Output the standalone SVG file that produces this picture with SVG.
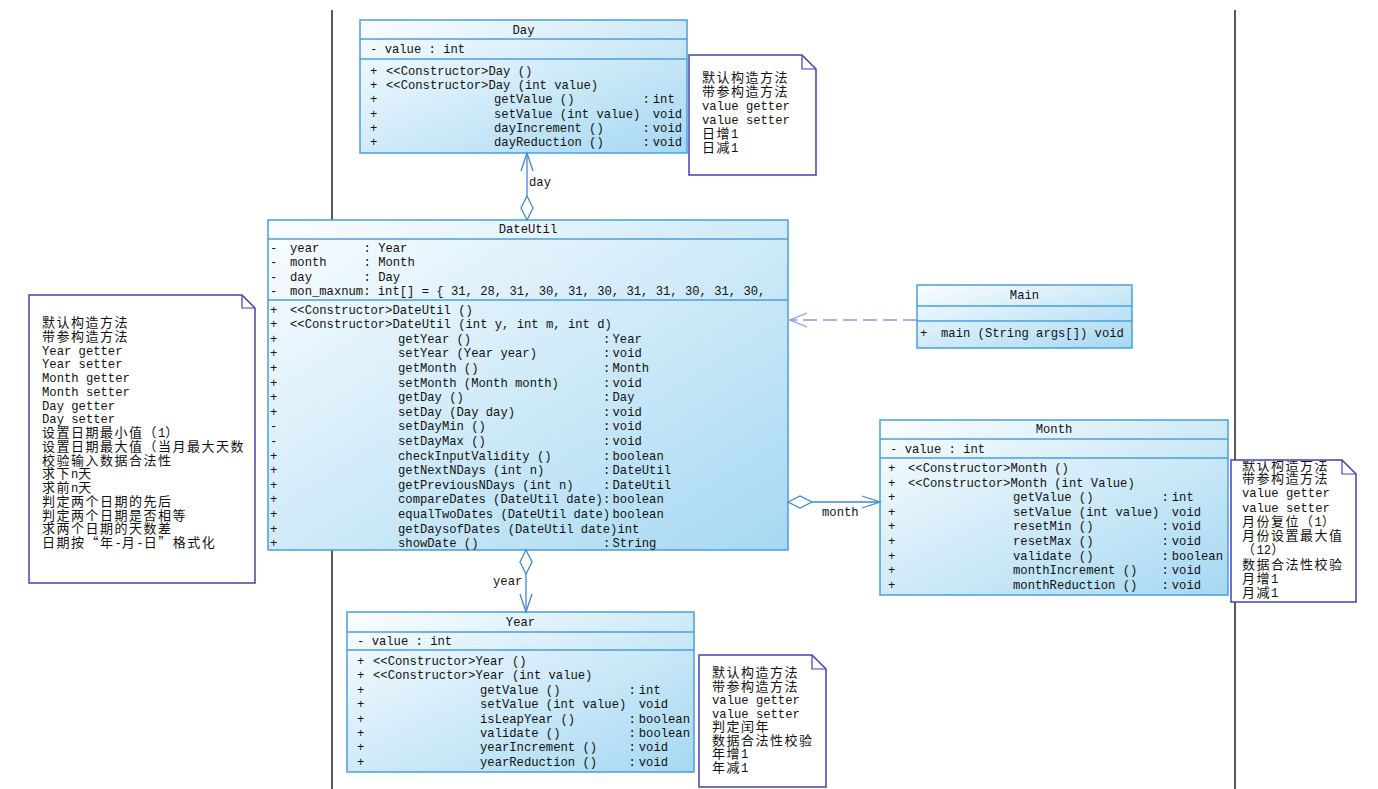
<svg xmlns="http://www.w3.org/2000/svg" width="1378" height="789" viewBox="0 0 1378 789">
<defs>
<linearGradient id="g" x1="0" y1="0" x2="1" y2="1">
<stop offset="0" stop-color="#fafdff"/>
<stop offset="1" stop-color="#a6d8f2"/>
</linearGradient>
<clipPath id="clipL"><rect x="30" y="296" width="213" height="286"/></clipPath>
<clipPath id="clipM"><rect x="1232" y="461" width="122" height="140"/></clipPath>
<clipPath id="clipY"><rect x="700" y="656" width="123" height="130"/></clipPath>
<style>
.box{fill:url(#g);stroke:#4a9ee0;stroke-width:1.5}
.dv{stroke:#4a9ee0;stroke-width:1.5}
.t{font-family:"Liberation Mono","Noto Sans CJK SC",monospace;font-size:12.2px;fill:#111}
.m{text-anchor:middle}
.c{font-family:"Noto Sans CJK SC",sans-serif;font-size:13px;letter-spacing:1.5px}
.note{fill:#fff;stroke:#4141b5;stroke-width:1.5}
.fold{fill:none;stroke:#4141b5;stroke-width:1.2}
.con{stroke:#3d8ad8;stroke-width:1.3;fill:none}
.dia{fill:#fff;stroke:#3d8ad8;stroke-width:1.3}
.dash{stroke:#9090e0;stroke-width:1.3;stroke-dasharray:14 6;fill:none}
.frame{stroke:#222;stroke-width:1.5}
</style>
</defs>
<rect width="1378" height="789" fill="#fff"/>
<g id="frame-lines">
<line class="frame" x1="332" y1="10" x2="332" y2="789"/>
<line class="frame" x1="1235" y1="10" x2="1235" y2="789"/>
</g>

<g id="Day">
<rect class="box" x="360" y="20" width="327" height="133"/>
<line class="dv" x1="360" y1="39" x2="687" y2="39"/>
<line class="dv" x1="360" y1="59" x2="687" y2="59"/>
<text class="t m" x="523.5" y="34">Day</text>
<text class="t" x="370" y="53">- value : int</text>
<text class="t" x="370" y="75">+</text><text class="t" x="386" y="75">&lt;&lt;Constructor&gt;Day ()</text>
<text class="t" x="370" y="89.2">+</text><text class="t" x="386" y="89.2">&lt;&lt;Constructor&gt;Day (int value)</text>
<text class="t" x="370" y="103.4">+</text><text class="t" x="494" y="103.4">getValue ()</text><text class="t" x="642.6" y="103.4">:<tspan x="652.8">int</tspan></text>
<text class="t" x="370" y="117.6">+</text><text class="t" x="494" y="117.6">setValue (int value)</text><text class="t" x="652.8" y="117.6">void</text>
<text class="t" x="370" y="131.8">+</text><text class="t" x="494" y="131.8">dayIncrement ()</text><text class="t" x="642.6" y="131.8">:<tspan x="652.8">void</tspan></text>
<text class="t" x="370" y="146">+</text><text class="t" x="494" y="146">dayReduction ()</text><text class="t" x="642.6" y="146">:<tspan x="652.8">void</tspan></text>
</g>

<g id="DateUtil">
<rect class="box" x="268" y="220" width="520" height="330"/>
<line class="dv" x1="268" y1="239" x2="788" y2="239"/>
<line class="dv" x1="268" y1="300" x2="788" y2="300"/>
<text class="t m" x="528" y="233">DateUtil</text>
<text class="t" x="270" y="252">-</text><text class="t" x="290" y="252">year</text><text class="t" x="363.5" y="252">: Year</text>
<text class="t" x="270" y="266.3">-</text><text class="t" x="290" y="266.3">month</text><text class="t" x="363.5" y="266.3">: Month</text>
<text class="t" x="270" y="280.7">-</text><text class="t" x="290" y="280.7">day</text><text class="t" x="363.5" y="280.7">: Day</text>
<text class="t" x="270" y="295">-</text><text class="t" x="290" y="295">mon_maxnum: int[] = { 31, 28, 31, 30, 31, 30, 31, 31, 30, 31, 30,</text>
<text class="t" x="270" y="313.5">+</text><text class="t" x="290" y="313.5">&lt;&lt;Constructor&gt;DateUtil ()</text>
<text class="t" x="270" y="328.1">+</text><text class="t" x="290" y="328.1">&lt;&lt;Constructor&gt;DateUtil (int y, int m, int d)</text>
<text class="t" x="270" y="342.7">+</text><text class="t" x="398" y="342.7">getYear ()</text><text class="t" x="603" y="342.7">:<tspan x="612.5">Year</tspan></text>
<text class="t" x="270" y="357.3">+</text><text class="t" x="398" y="357.3">setYear (Year year)</text><text class="t" x="603" y="357.3">:<tspan x="612.5">void</tspan></text>
<text class="t" x="270" y="371.9">+</text><text class="t" x="398" y="371.9">getMonth ()</text><text class="t" x="603" y="371.9">:<tspan x="612.5">Month</tspan></text>
<text class="t" x="270" y="386.5">+</text><text class="t" x="398" y="386.5">setMonth (Month month)</text><text class="t" x="603" y="386.5">:<tspan x="612.5">void</tspan></text>
<text class="t" x="270" y="401.1">+</text><text class="t" x="398" y="401.1">getDay ()</text><text class="t" x="603" y="401.1">:<tspan x="612.5">Day</tspan></text>
<text class="t" x="270" y="415.7">+</text><text class="t" x="398" y="415.7">setDay (Day day)</text><text class="t" x="603" y="415.7">:<tspan x="612.5">void</tspan></text>
<text class="t" x="270" y="430.3">-</text><text class="t" x="398" y="430.3">setDayMin ()</text><text class="t" x="603" y="430.3">:<tspan x="612.5">void</tspan></text>
<text class="t" x="270" y="444.9">-</text><text class="t" x="398" y="444.9">setDayMax ()</text><text class="t" x="603" y="444.9">:<tspan x="612.5">void</tspan></text>
<text class="t" x="270" y="459.5">+</text><text class="t" x="398" y="459.5">checkInputValidity ()</text><text class="t" x="603" y="459.5">:<tspan x="612.5">boolean</tspan></text>
<text class="t" x="270" y="474.1">+</text><text class="t" x="398" y="474.1">getNextNDays (int n)</text><text class="t" x="603" y="474.1">:<tspan x="612.5">DateUtil</tspan></text>
<text class="t" x="270" y="488.7">+</text><text class="t" x="398" y="488.7">getPreviousNDays (int n)</text><text class="t" x="603" y="488.7">:<tspan x="612.5">DateUtil</tspan></text>
<text class="t" x="270" y="503.3">+</text><text class="t" x="398" y="503.3">compareDates (DateUtil date)</text><text class="t" x="603" y="503.3">:<tspan x="612.5">boolean</tspan></text>
<text class="t" x="270" y="517.9">+</text><text class="t" x="398" y="517.9">equalTwoDates (DateUtil date)</text><text class="t" x="612.5" y="517.9">boolean</text>
<text class="t" x="270" y="532.5">+</text><text class="t" x="398" y="532.5">getDaysofDates (DateUtil date)int</text>
<text class="t" x="270" y="547.1">+</text><text class="t" x="398" y="547.1">showDate ()</text><text class="t" x="603" y="547.1">:<tspan x="612.5">String</tspan></text>
</g>

<g id="Main">
<rect class="box" x="917" y="285" width="215" height="63"/>
<line class="dv" x1="917" y1="306" x2="1132" y2="306"/>
<line class="dv" x1="917" y1="321" x2="1132" y2="321"/>
<text class="t m" x="1024.5" y="299">Main</text>
<text class="t" x="920" y="337">+</text><text class="t" x="941" y="337">main (String args[]) void</text>
</g>

<g id="Month">
<rect class="box" x="880" y="420" width="348" height="175"/>
<line class="dv" x1="880" y1="439" x2="1228" y2="439"/>
<line class="dv" x1="880" y1="458" x2="1228" y2="458"/>
<text class="t m" x="1054" y="433">Month</text>
<text class="t" x="890" y="453">- value : int</text>
<text class="t" x="888" y="472">+</text><text class="t" x="908" y="472">&lt;&lt;Constructor&gt;Month ()</text>
<text class="t" x="888" y="486.6">+</text><text class="t" x="908" y="486.6">&lt;&lt;Constructor&gt;Month (int Value)</text>
<text class="t" x="888" y="501.2">+</text><text class="t" x="1013" y="501.2">getValue ()</text><text class="t" x="1161.6" y="501.2">:<tspan x="1171.8">int</tspan></text>
<text class="t" x="888" y="515.8">+</text><text class="t" x="1013" y="515.8">setValue (int value)</text><text class="t" x="1171.8" y="515.8">void</text>
<text class="t" x="888" y="530.4">+</text><text class="t" x="1013" y="530.4">resetMin ()</text><text class="t" x="1161.6" y="530.4">:<tspan x="1171.8">void</tspan></text>
<text class="t" x="888" y="545">+</text><text class="t" x="1013" y="545">resetMax ()</text><text class="t" x="1161.6" y="545">:<tspan x="1171.8">void</tspan></text>
<text class="t" x="888" y="559.6">+</text><text class="t" x="1013" y="559.6">validate ()</text><text class="t" x="1161.6" y="559.6">:<tspan x="1171.8">boolean</tspan></text>
<text class="t" x="888" y="574.2">+</text><text class="t" x="1013" y="574.2">monthIncrement ()</text><text class="t" x="1161.6" y="574.2">:<tspan x="1171.8">void</tspan></text>
<text class="t" x="888" y="588.8">+</text><text class="t" x="1013" y="588.8">monthReduction ()</text><text class="t" x="1161.6" y="588.8">:<tspan x="1171.8">void</tspan></text>
</g>

<g id="Year">
<rect class="box" x="347" y="612" width="347" height="160"/>
<line class="dv" x1="347" y1="632" x2="694" y2="632"/>
<line class="dv" x1="347" y1="650" x2="694" y2="650"/>
<text class="t m" x="520.5" y="625.5">Year</text>
<text class="t" x="357" y="645">- value : int</text>
<text class="t" x="357" y="665">+</text><text class="t" x="373" y="665">&lt;&lt;Constructor&gt;Year ()</text>
<text class="t" x="357" y="679.4">+</text><text class="t" x="373" y="679.4">&lt;&lt;Constructor&gt;Year (int value)</text>
<text class="t" x="357" y="693.8">+</text><text class="t" x="480" y="693.8">getValue ()</text><text class="t" x="628.6" y="693.8">:<tspan x="638.8">int</tspan></text>
<text class="t" x="357" y="708.2">+</text><text class="t" x="480" y="708.2">setValue (int value)</text><text class="t" x="638.8" y="708.2">void</text>
<text class="t" x="357" y="722.6">+</text><text class="t" x="480" y="722.6">isLeapYear ()</text><text class="t" x="628.6" y="722.6">:<tspan x="638.8">boolean</tspan></text>
<text class="t" x="357" y="737">+</text><text class="t" x="480" y="737">validate ()</text><text class="t" x="628.6" y="737">:<tspan x="638.8">boolean</tspan></text>
<text class="t" x="357" y="751.4">+</text><text class="t" x="480" y="751.4">yearIncrement ()</text><text class="t" x="628.6" y="751.4">:<tspan x="638.8">void</tspan></text>
<text class="t" x="357" y="765.8">+</text><text class="t" x="480" y="765.8">yearReduction ()</text><text class="t" x="628.6" y="765.8">:<tspan x="638.8">void</tspan></text>
</g>

<g id="connectors">
<g id="day-link">
<line class="con" x1="527" y1="153" x2="527" y2="196"/>
<polyline class="con" points="521,171 527,153 533,171"/>
<polygon class="dia" points="527,196 533,208 527,220 521,208"/>
<text class="t" x="529" y="186">day</text>
</g>
<g id="year-link">
<polygon class="dia" points="526,550 532,562 526,574 520,562"/>
<line class="con" x1="526" y1="574" x2="526" y2="612"/>
<polyline class="con" points="520,594 526,612 532,594"/>
<text class="t" x="493" y="585">year</text>
</g>
<g id="month-link">
<polygon class="dia" points="788,502 800,496 812,502 800,508"/>
<line class="con" x1="812" y1="502" x2="880" y2="502"/>
<polyline class="con" points="862,496 880,502 862,508"/>
<text class="t" x="822" y="516">month</text>
</g>
<g id="main-link">
<line class="dash" x1="917" y1="320" x2="790" y2="320"/>
<polyline class="dash" style="stroke-dasharray:none" points="807,313 790,320 807,327"/>
</g>
</g>

<g id="note-day">
<path class="note" d="M689,55 H802 L816,69 V175 H689 Z"/>
<path class="fold" d="M802,55 V69 H816"/>
<text class="t c" x="702" y="82">默认构造方法</text>
<text class="t c" x="702" y="96">带参构造方法</text>
<text class="t" x="702" y="110">value getter</text>
<text class="t" x="702" y="124">value setter</text>
<text class="t" x="702" y="138"><tspan class="c">日增</tspan>1</text>
<text class="t" x="702" y="152"><tspan class="c">日减</tspan>1</text>
</g>

<g id="note-dateutil">
<path class="note" d="M29,295 H242 L255,308 V583 H29 Z"/>
<path class="fold" d="M242,295 V308 H255"/>
<g clip-path="url(#clipL)">
<text class="t c" x="42" y="327">默认构造方法</text>
<text class="t c" x="42" y="340.75">带参构造方法</text>
<text class="t" x="42" y="354.5">Year getter</text>
<text class="t" x="42" y="368.25">Year setter</text>
<text class="t" x="42" y="382">Month getter</text>
<text class="t" x="42" y="395.75">Month setter</text>
<text class="t" x="42" y="409.5">Day getter</text>
<text class="t" x="42" y="423.25">Day setter</text>
<text class="t" x="42" y="437"><tspan class="c">设置日期最小值（</tspan>1<tspan class="c">）</tspan></text>
<text class="t c" x="42" y="450.75">设置日期最大值（当月最大天数）</text>
<text class="t c" x="42" y="464.5">校验输入数据合法性</text>
<text class="t" x="42" y="478.25"><tspan class="c">求下</tspan>n<tspan class="c">天</tspan></text>
<text class="t" x="42" y="492"><tspan class="c">求前</tspan>n<tspan class="c">天</tspan></text>
<text class="t c" x="42" y="505.75">判定两个日期的先后</text>
<text class="t c" x="42" y="519.5">判定两个日期是否相等</text>
<text class="t c" x="42" y="533.25">求两个日期的天数差</text>
<text class="t" x="42" y="547"><tspan class="c">日期按“年</tspan>-<tspan class="c">月</tspan>-<tspan class="c">日”格式化</tspan></text>
</g>
</g>

<g id="note-month">
<path class="note" d="M1231,460 H1342 L1356,474 V602 H1231 Z"/>
<path class="fold" d="M1342,460 V474 H1356"/>
<g clip-path="url(#clipM)">
<text class="t c" x="1242" y="470">默认构造方法</text>
<text class="t c" x="1242" y="483.2">带参构造方法</text>
<text class="t" x="1242" y="497.4">value getter</text>
<text class="t" x="1242" y="511.7">value setter</text>
<text class="t" x="1242" y="525.9"><tspan class="c">月份复位（</tspan>1<tspan class="c">）</tspan></text>
<text class="t c" x="1242" y="540.1">月份设置最大值</text>
<text class="t" x="1242" y="554.3"><tspan class="c">（</tspan>12<tspan class="c">）</tspan></text>
<text class="t c" x="1242" y="568.5">数据合法性校验</text>
<text class="t" x="1242" y="582.8"><tspan class="c">月增</tspan>1</text>
<text class="t" x="1242" y="597"><tspan class="c">月减</tspan>1</text>
</g>
</g>

<g id="note-year">
<path class="note" d="M699,655 H812 L826,669 V787 H699 Z"/>
<path class="fold" d="M812,655 V669 H826"/>
<g clip-path="url(#clipY)">
<text class="t c" x="712" y="677">默认构造方法</text>
<text class="t c" x="712" y="690.6">带参构造方法</text>
<text class="t" x="712" y="704.1">value getter</text>
<text class="t" x="712" y="717.7">value setter</text>
<text class="t c" x="712" y="731.3">判定闰年</text>
<text class="t c" x="712" y="744.9">数据合法性校验</text>
<text class="t" x="712" y="758.4"><tspan class="c">年增</tspan>1</text>
<text class="t" x="712" y="772"><tspan class="c">年减</tspan>1</text>
</g>
</g>
</svg>
